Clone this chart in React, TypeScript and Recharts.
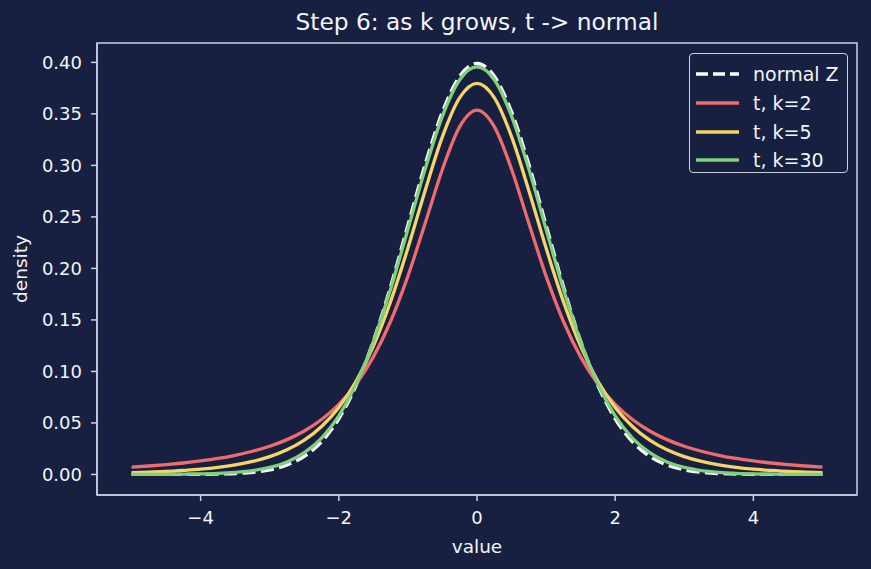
import React from "react";
import {
  Line,
  LineChart,
  ReferenceArea,
  XAxis,
  YAxis
} from "recharts";

const xs = [
  -5, -4.75, -4.5, -4.25, -4, -3.75, -3.5, -3.25, -3, -2.75, -2.5, -2.25, -2, -1.75, -1.5, -1.25, -1, -0.75, -0.5, -0.25,
  0, 0.25, 0.5, 0.75, 1, 1.25, 1.5, 1.75, 2, 2.25, 2.5, 2.75, 3, 3.25, 3.5, 3.75, 4, 4.25, 4.5, 4.75, 5
];

const normalZ = [
  0.0, 0.0, 0.0, 0.0, 0.0001, 0.0004, 0.0009, 0.002, 0.0044, 0.0091, 0.0175, 0.0317, 0.054, 0.0863, 0.1295, 0.1826, 0.242, 0.3011, 0.3521, 0.3867,
  0.3989, 0.3867, 0.3521, 0.3011, 0.242, 0.1826, 0.1295, 0.0863, 0.054, 0.0317, 0.0175, 0.0091, 0.0044, 0.002, 0.0009, 0.0004, 0.0001, 0.0, 0.0, 0.0, 0.0
];

const tK2 = [
  0.0071, 0.0082, 0.0095, 0.0111, 0.0131, 0.0155, 0.0186, 0.0225, 0.0274, 0.0338, 0.0422, 0.0533, 0.068, 0.0878, 0.1141, 0.1487, 0.1925, 0.2438, 0.2963, 0.3376,
  0.3536, 0.3376, 0.2963, 0.2438, 0.1925, 0.1487, 0.1141, 0.0878, 0.068, 0.0533, 0.0422, 0.0338, 0.0274, 0.0225, 0.0186, 0.0155, 0.0131, 0.0111, 0.0095, 0.0082, 0.0071
];

const tK5 = [
  0.0018, 0.0023, 0.0029, 0.0039, 0.0051, 0.0068, 0.0092, 0.0126, 0.0173, 0.0239, 0.0333, 0.0466, 0.0651, 0.0905, 0.1245, 0.1679, 0.2197, 0.2757, 0.3279, 0.3657,
  0.3796, 0.3657, 0.3279, 0.2757, 0.2197, 0.1679, 0.1245, 0.0905, 0.0651, 0.0466, 0.0333, 0.0239, 0.0173, 0.0126, 0.0092, 0.0068, 0.0051, 0.0039, 0.0029, 0.0023, 0.0018
];

const tK30 = [
  0.0, 0.0001, 0.0001, 0.0003, 0.0005, 0.001, 0.002, 0.0037, 0.0068, 0.0121, 0.0211, 0.0353, 0.0569, 0.0877, 0.129, 0.1801, 0.238, 0.2966, 0.3479, 0.3831,
  0.3956, 0.3831, 0.3479, 0.2966, 0.238, 0.1801, 0.129, 0.0877, 0.0569, 0.0353, 0.0211, 0.0121, 0.0068, 0.0037, 0.002, 0.001, 0.0005, 0.0003, 0.0001, 0.0001, 0.0
];

const xTicks = [-4, -2, 0, 2, 4];
const yTicks = [0, 0.05, 0.1, 0.15, 0.2, 0.25, 0.3, 0.35, 0.4];

const data = xs.map((x, i) => ({
  x,
  normal: normalZ[i],
  k2: tK2[i],
  k5: tK5[i],
  k30: tK30[i]
}));

const BG = "#172040";
const AXIS = "#c9d1e3";
const TEXT = "#f2f4f8";
const FONT = "'DejaVu Sans', sans-serif";

const series = [
  { key: "normal", name: "normal Z", color: "#ffffff", dash: "13 5.5" },
  { key: "k2", name: "t, k=2", color: "#ee6b6e", dash: undefined },
  { key: "k5", name: "t, k=5", color: "#f5d468", dash: undefined },
  { key: "k30", name: "t, k=30", color: "#80d07c", dash: undefined }
];

// legend drawn as an overlay so it doesn't eat into the plot area
function LegendBox() {
  return (
    <div
      style={{
        position: "absolute",
        left: 689,
        top: 53,
        width: 159,
        height: 120,
        border: `1.5px solid ${AXIS}`,
        borderRadius: 4,
        background: BG,
        padding: "6px 0 4px 0",
        boxSizing: "border-box",
        fontFamily: FONT,
        fontSize: 19,
        color: TEXT
      }}
    >
      {series.map((s) => (
        <div key={s.key} style={{ display: "flex", alignItems: "center", height: 28.7 }}>
          <svg width={63} height={10}>
            <line
              x1={6}
              x2={49}
              y1={5}
              y2={5}
              stroke={s.color}
              strokeWidth={3.3}
              strokeDasharray={s.dash ? "12 5" : undefined}
            />
          </svg>
          <span>{s.name}</span>
        </div>
      ))}
    </div>
  );
}

const minus = (v: number) => String(v).replace("-", "\u2212");

export default function App() {
  return (
    <div
      style={{
        position: "absolute",
        left: 0,
        top: 0,
        width: 871,
        height: 569,
        background: BG,
        fontFamily: FONT
      }}
    >
      <div
        style={{
          position: "absolute",
          left: 97,
          width: 760,
          top: 6,
          textAlign: "center",
          color: TEXT,
          fontSize: 23.3,
          lineHeight: "32px"
        }}
      >
        Step 6: as k grows, t -&gt; normal
      </div>
      <LineChart
        width={871}
        height={569}
        data={data}
        margin={{ top: 43, right: 14, bottom: 0, left: 0 }}
      >
        <XAxis
          type="number"
          dataKey="x"
          domain={[-5.5, 5.5]}
          ticks={xTicks}
          allowDataOverflow
          stroke={AXIS}
          strokeWidth={1.5}
          tickSize={6}
          tickMargin={10}
          tick={{ fill: TEXT, fontSize: 18, fontFamily: FONT }}
          tickFormatter={minus}
          label={{
            value: "value",
            position: "insideBottom",
            offset: 16,
            fill: TEXT,
            fontSize: 18.5,
            fontFamily: FONT
          }}
          height={74}
        />
        <YAxis
          type="number"
          domain={[-0.01995, 0.4188]}
          ticks={yTicks}
          allowDataOverflow
          width={97}
          stroke={AXIS}
          strokeWidth={1.5}
          tickSize={6}
          tickMargin={9}
          tick={{ fill: TEXT, fontSize: 18, fontFamily: FONT }}
          tickFormatter={(v: number) => v.toFixed(2)}
          label={{
            value: "density",
            angle: -90,
            position: "insideLeft",
            offset: 20,
            fill: TEXT,
            fontSize: 18.5,
            fontFamily: FONT,
            style: { textAnchor: "middle" }
          }}
        />
        <ReferenceArea
          x1={-5.5}
          x2={5.5}
          y1={-0.01995}
          y2={0.4188}
          fill="none"
          stroke={AXIS}
          strokeWidth={1.5}
        />
        {series.map((s) => (
          <Line
            key={s.key}
            type="monotone"
            dataKey={s.key}
            name={s.name}
            stroke={s.color}
            strokeWidth={3.3}
            strokeDasharray={s.dash}
            dot={false}
            activeDot={false}
            isAnimationActive={false}
          />
        ))}
      </LineChart>
      <LegendBox />
    </div>
  );
}
